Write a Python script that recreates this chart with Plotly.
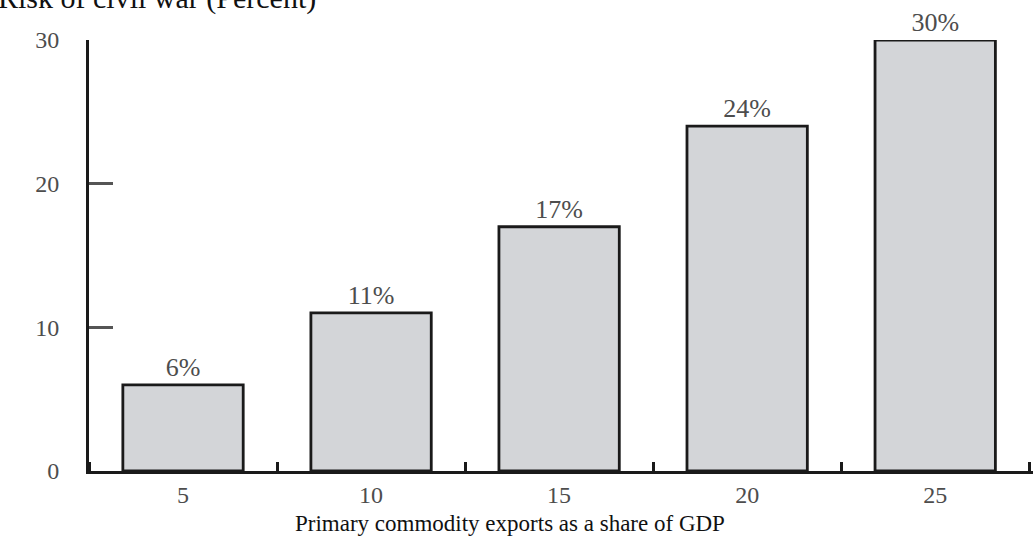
import plotly.graph_objects as go

# Data
export_share = [5, 10, 15, 20, 25]          # x categories (% of GDP)
risk_percent = [6, 11, 17, 24, 30]          # risk of civil war (%)
y_ticks = [0, 10, 20, 30]
title_text = "Risk of civil war (Percent)"
x_title = "Primary commodity exports as a share of GDP"

W, H = 1033, 549
ML, MR, MT, MB = 89, 0, 40, 78
PW = W - ML - MR
PH = H - MT - MB

serif = "Liberation Serif, Times New Roman, serif"
label_gray = "#4d4d4d"

fig = go.Figure()
fig.add_trace(go.Bar(
    x=export_share,
    y=risk_percent,
    width=3.2,
    marker=dict(color="#d3d5d8", line=dict(color="#1a1a1a", width=2.8)),
    text=[f"{v}%" for v in risk_percent],
    textposition="outside",
    textfont=dict(family=serif, size=26, color=label_gray),
    cliponaxis=False,
    showlegend=False,
))

fig.update_layout(
    width=W, height=H,
    margin=dict(l=ML, r=MR, t=MT, b=MB),
    paper_bgcolor="white", plot_bgcolor="white",
    xaxis=dict(
        range=[2.5, 27.6],
        tickvals=export_share,
        ticktext=[str(v) for v in export_share],
        ticks="",
        showgrid=False, zeroline=False,
        showline=True, linecolor="#1a1a1a", linewidth=3,
        tickfont=dict(family=serif, size=24, color=label_gray),
        ticklabelstandoff=0,
        minor=dict(tick0=2.5, dtick=5, ticks="inside", ticklen=9, tickwidth=3,
                   tickcolor="#1a1a1a", showgrid=False),
        fixedrange=True,
    ),
    yaxis=dict(
        range=[0, 30],
        tickvals=y_ticks,
        ticktext=[str(v) for v in y_ticks],
        ticks="inside", ticklen=24, tickwidth=3, tickcolor="#555",
        showgrid=False, zeroline=False,
        showline=True, linecolor="#1a1a1a", linewidth=3,
        tickfont=dict(family=serif, size=24, color=label_gray),
        ticklabelstandoff=22,
        fixedrange=True,
    ),
    annotations=[
        dict(
            text=title_text, xref="paper", yref="paper",
            x=(318 - ML) / PW, y=1 + (MT - 17) / PH,
            xanchor="right", yanchor="bottom", showarrow=False,
            font=dict(family=serif, size=30, color="#111"),
        ),
        dict(
            text=x_title, xref="paper", yref="paper",
            x=(510 - ML) / PW, y=-(523 - (MT + PH)) / PH,
            xanchor="center", yanchor="middle", showarrow=False,
            font=dict(family=serif, size=23, color="#111"),
        ),
    ],
)

fig.write_html("out.html")
